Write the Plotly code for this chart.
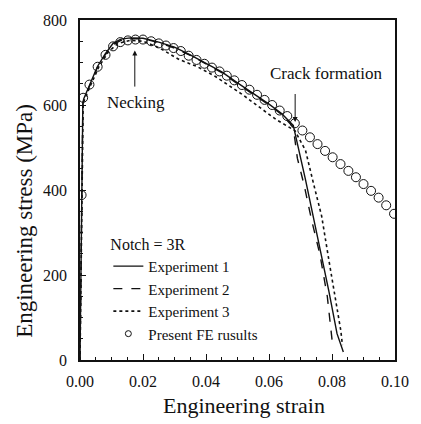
import plotly.graph_objects as go

# ---- data ----
fe_strain = [0.0005, 0.001, 0.003, 0.0056, 0.0081, 0.0105, 0.0128, 0.0152, 0.0176, 0.0200,
             0.0226, 0.0250, 0.0273, 0.0297, 0.0320, 0.0345, 0.0370, 0.0395, 0.0419, 0.0443,
             0.0466, 0.0490, 0.0514, 0.0538, 0.0562, 0.0586, 0.0610, 0.0634, 0.0658, 0.0682,
             0.0706, 0.0730, 0.0754, 0.0778, 0.0802, 0.0827, 0.0852, 0.0876, 0.0900, 0.0924,
             0.0948, 0.0972, 0.0997]
fe_stress = [388, 617, 648, 690, 718, 738, 748, 752, 754, 754,
             750, 745, 740, 734, 727, 716, 706, 697, 688, 679,
             669, 658, 647, 636, 624, 612, 600, 587, 574, 557,
             540, 524, 508, 492, 477, 461, 445, 430, 414, 398,
             382, 364, 344]

exp1_strain = [0.0, 0.0009, 0.0012, 0.003, 0.0055, 0.008, 0.0105, 0.013, 0.016, 0.020,
               0.025, 0.030, 0.035, 0.040, 0.045, 0.050, 0.055, 0.060, 0.064, 0.0677,
               0.0716, 0.0746, 0.0767, 0.0790, 0.0816, 0.0836]
exp1_stress = [0, 605, 615, 648, 690, 720, 745, 755, 758, 757,
               748, 736, 718, 698, 678, 652, 628, 602, 580, 552,
               424, 320, 247, 162, 62, 19]

exp2_strain = [0.0, 0.0009, 0.0012, 0.003, 0.0055, 0.008, 0.0105, 0.013, 0.016, 0.020,
               0.025, 0.030, 0.035, 0.040, 0.045, 0.050, 0.055, 0.060, 0.064, 0.0677,
               0.0690, 0.0712, 0.0735, 0.0762, 0.0785, 0.0803]
exp2_stress = [0, 600, 612, 645, 688, 718, 742, 752, 756, 756,
               747, 734, 717, 697, 676, 650, 626, 600, 578, 548,
               475, 410, 330, 247, 150, 28]

exp3_strain = [0.0, 0.0008, 0.001, 0.003, 0.006, 0.009, 0.012, 0.016, 0.020, 0.025,
               0.0315, 0.0373, 0.0430, 0.0511, 0.0567, 0.0624, 0.0682, 0.0716, 0.0741,
               0.0767, 0.0793, 0.0818, 0.0828, 0.0833]
exp3_stress = [0, 590, 605, 640, 690, 725, 745, 752, 750, 735,
               707, 690, 667, 627, 596, 565, 540, 493, 416,
               339, 222, 108, 69, 35]

x_ticks = [0.0, 0.02, 0.04, 0.06, 0.08, 0.10]
y_ticks = [0, 200, 400, 600, 800]

x_title = "Engineering strain"
y_title = "Engineering stress (MPa)"

necking_pt = (0.0174, 728)
crack_pt = (0.0683, 560)

FONT = "Liberation Serif, Times New Roman, serif"
BLACK = "#111111"

fig = go.Figure()
fig.add_trace(go.Scatter(x=exp1_strain, y=exp1_stress, mode="lines", name="Experiment 1",
                         line=dict(color=BLACK, width=1.4, dash="solid")))
fig.add_trace(go.Scatter(x=exp2_strain, y=exp2_stress, mode="lines", name="Experiment 2",
                         line=dict(color=BLACK, width=1.4, dash="dash")))
fig.add_trace(go.Scatter(x=exp3_strain, y=exp3_stress, mode="lines", name="Experiment 3",
                         line=dict(color=BLACK, width=1.6, dash="dot")))
fig.add_trace(go.Scatter(x=fe_strain, y=fe_stress, mode="markers", name="Present FE rusults",
                         showlegend=False,
                         marker=dict(symbol="circle-open", size=9, color=BLACK,
                                     line=dict(width=1, color=BLACK))))
fig.add_trace(go.Scatter(x=[None], y=[None], mode="markers", name="Present FE rusults",
                         marker=dict(symbol="circle-open", size=6, color=BLACK,
                                     line=dict(width=1, color=BLACK))))

# annotations
fig.add_annotation(x=necking_pt[0], y=necking_pt[1], ax=0, ay=38, text=" ",
                   font=dict(size=1), showarrow=True, arrowhead=2, arrowsize=1,
                   arrowwidth=1, arrowcolor=BLACK)
fig.add_annotation(x=necking_pt[0], y=necking_pt[1], text="Necking", showarrow=False,
                   xshift=1, yshift=-52, font=dict(family=FONT, size=17, color=BLACK))
fig.add_annotation(x=crack_pt[0], y=crack_pt[1], ax=0, ay=-30, text=" ",
                   font=dict(size=1), showarrow=True, arrowhead=2, arrowsize=1,
                   arrowwidth=1, arrowcolor=BLACK)
fig.add_annotation(x=crack_pt[0], y=crack_pt[1], text="Crack formation", showarrow=False,
                   xshift=31, yshift=49, font=dict(family=FONT, size=17, color=BLACK))

# axis titles (placed as in the reference, slightly off-centre)
fig.add_annotation(xref="paper", yref="paper", x=0.521, y=-0.133, yanchor="middle",
                   text=x_title, showarrow=False,
                   font=dict(family=FONT, size=22, color=BLACK))
fig.add_annotation(xref="paper", yref="paper", x=-0.177, y=0.41, xanchor="center",
                   yanchor="middle", textangle=-90, text=y_title, showarrow=False,
                   font=dict(family=FONT, size=23, color=BLACK))

axis_common = dict(showline=True, linecolor=BLACK, linewidth=1.5, mirror=True,
                   showgrid=False, zeroline=False, ticks="inside", ticklen=6,
                   tickcolor=BLACK, tickwidth=1.2,
                   tickfont=dict(family=FONT, size=16, color=BLACK))

fig.update_layout(
    width=421, height=424,
    margin=dict(l=80, r=15, t=14, b=64),
    paper_bgcolor="white", plot_bgcolor="white",
    font=dict(family=FONT, color=BLACK),
    xaxis=dict(range=[0, 0.1], tickvals=x_ticks, tickformat=".2f",
               minor=dict(ticks="inside", dtick=0.005, ticklen=3, tickcolor=BLACK),
               ticklabelstandoff=6, **axis_common),
    yaxis=dict(range=[0, 800], tickvals=y_ticks,
               minor=dict(ticks="inside", dtick=50, ticklen=3, tickcolor=BLACK),
               ticklabelstandoff=8, **axis_common),
    legend=dict(x=0.09, y=0.385, xanchor="left", yanchor="top",
                bgcolor="rgba(0,0,0,0)", font=dict(family=FONT, size=15, color=BLACK),
                title=dict(text="Notch = 3R", font=dict(family=FONT, size=16, color=BLACK)),
                tracegroupgap=0),
    showlegend=True,
)

fig.write_html("out.html")
